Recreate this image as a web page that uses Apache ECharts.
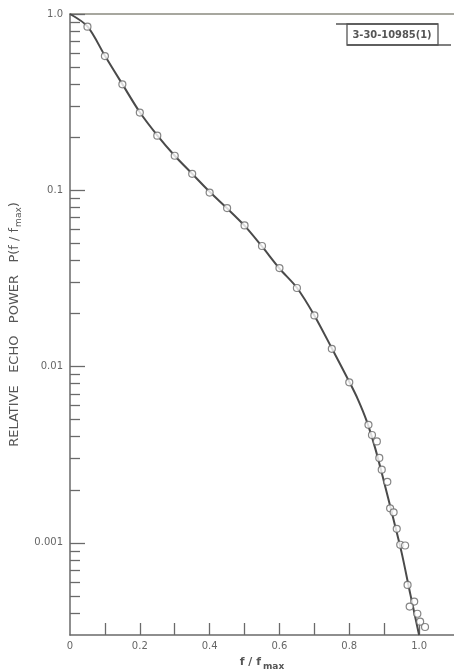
<!DOCTYPE html>
<html>
<head>
<meta charset="utf-8">
<script src="https://cdn.jsdelivr.net/npm/echarts@6.0.0/dist/echarts.min.js"></script>
<style>
    html, body { margin: 0; padding: 0; background: #fff; }
    #echo-chart { width: 454px; height: 671px; }
</style>
</head>
<body>
<div id="echo-chart"></div>
<script>
// 测量点 (f/fmax, P)
var pointX = [0.05, 0.10, 0.15, 0.20, 0.25, 0.30, 0.35, 0.40, 0.45, 0.50, 0.55, 0.60, 0.65, 0.70, 0.75, 0.80,
    0.855, 0.865, 0.879, 0.886, 0.893, 0.909, 0.917, 0.927, 0.936, 0.946, 0.960, 0.967, 0.986, 0.973, 0.995, 1.003, 1.017];
var pointP = [0.847, 0.577, 0.399, 0.276, 0.204, 0.157, 0.124, 0.097, 0.0793, 0.0632, 0.0483, 0.0362, 0.0279, 0.0195, 0.0126, 0.00814,
    0.00467, 0.00409, 0.00376, 0.00303, 0.00260, 0.00222, 0.00157, 0.00149, 0.00120, 0.000975, 0.000966, 0.000577, 0.000464, 0.000435, 0.000396, 0.000357, 0.000333];

// 拟合曲线
var fitX = [0, 0.05, 0.10, 0.15, 0.20, 0.25, 0.30, 0.35, 0.40, 0.45, 0.50, 0.55, 0.60, 0.65, 0.70, 0.75, 0.80, 0.825, 0.85, 0.875, 0.90, 0.925, 0.95, 0.975, 1.0];
var fitP = [1.0, 0.85, 0.58, 0.40, 0.277, 0.205, 0.157, 0.124, 0.098, 0.079, 0.063, 0.048, 0.036, 0.028, 0.0195, 0.0127, 0.0082, 0.0065, 0.0049, 0.0034, 0.0022, 0.0014, 0.00088, 0.00051, 0.0003];

// 刻度
var xLabelValues = [0, 0.2, 0.4, 0.6, 0.8, 1.0];
var xTickValues = [0.1, 0.2, 0.3, 0.4, 0.5, 0.6, 0.7, 0.8, 0.9, 1.0];
var yLabelValues = [0.001, 0.01, 0.1, 1];
var yMinorValues = [0.0004, 0.0005, 0.0006, 0.0007, 0.0008, 0.0009,
    0.002, 0.003, 0.004, 0.005, 0.006, 0.007, 0.008, 0.009,
    0.02, 0.03, 0.04, 0.05, 0.06, 0.07, 0.08, 0.09,
    0.2, 0.3, 0.4, 0.5, 0.6, 0.7, 0.8, 0.9];

(function() {
    var myChart = echarts.init(document.getElementById('echo-chart'));
    var axisColor = '#6a6a6a';
    var textColor = '#666';

    var points = pointX.map(function(x, i) { return [x, pointP[i]]; });
    var fit = fitX.map(function(x, i) { return [x, fitP[i]]; });

    var option = {
        backgroundColor: '#fff',
        animation: false,
        grid: {
            left: 70,
            right: 0,
            top: 14,
            bottom: 36,
            outerBoundsMode: 'none'
        },
        xAxis: [{
            type: 'value',
            min: 0,
            max: 1.1,
            name: '{a|f / f}{s|max}',
            nameLocation: 'middle',
            nameGap: 19,
            nameTextStyle: {
                rich: {
                    a: { fontFamily: 'DejaVu Sans', fontSize: 11, fontWeight: 'bold', color: '#555' },
                    s: { fontFamily: 'DejaVu Sans', fontSize: 9, fontWeight: 'bold', color: '#555', padding: [8, 0, 0, 2] }
                }
            },
            splitLine: { show: false },
            axisLine: { show: true, lineStyle: { color: axisColor, width: 1.5 } },
            axisTick: {
                show: true,
                inside: true,
                length: 12,
                customValues: xTickValues,
                lineStyle: { color: axisColor, width: 1.3 }
            },
            axisLabel: {
                customValues: xLabelValues,
                color: textColor,
                fontFamily: 'DejaVu Sans',
                fontSize: 10,
                margin: 6,
                formatter: function(v) { return v === 0 ? '0' : v.toFixed(1); }
            }
        }, {
            type: 'value',
            position: 'top',
            min: 0,
            max: 1.1,
            splitLine: { show: false },
            axisLine: { show: true, onZero: false, lineStyle: { color: '#8a8a80', width: 1.5 } },
            axisTick: { show: false },
            axisLabel: { show: false }
        }],
        yAxis: [{
            type: 'log',
            logBase: 10,
            min: 0.0003,
            max: 1,
            name: '{a|RELATIVE   ECHO   POWER   P(f / f}{s|max}{a|)}',
            nameLocation: 'middle',
            nameGap: 36,
            nameRotate: 90,
            nameTextStyle: {
                rich: {
                    a: { fontFamily: 'DejaVu Sans', fontSize: 13, color: '#555' },
                    s: { fontFamily: 'DejaVu Sans', fontSize: 9, color: '#555', padding: [9, 0, 0, 1] }
                }
            },
            splitLine: { show: false },
            axisLine: { show: true, lineStyle: { color: axisColor, width: 1.5 } },
            axisTick: {
                show: true,
                inside: true,
                length: 15,
                customValues: yLabelValues,
                lineStyle: { color: axisColor, width: 1.3 }
            },
            axisLabel: {
                customValues: yLabelValues,
                color: textColor,
                fontFamily: 'DejaVu Sans',
                fontSize: 10,
                margin: 7,
                formatter: function(v) { return v >= 1 ? '1.0' : String(v); }
            }
        }, {
            type: 'log',
            logBase: 10,
            min: 0.0003,
            max: 1,
            position: 'left',
            splitLine: { show: false },
            axisLine: { show: false },
            axisTick: {
                show: true,
                inside: true,
                length: 10,
                customValues: yMinorValues,
                lineStyle: { color: axisColor, width: 1.3 }
            },
            axisLabel: { show: false }
        }],
        graphic: [{
            type: 'line',
            shape: { x1: 336, y1: 24, x2: 438, y2: 24 },
            style: { stroke: '#555', lineWidth: 1.3 }
        }, {
            type: 'line',
            shape: { x1: 347, y1: 45, x2: 451, y2: 45 },
            style: { stroke: '#555', lineWidth: 1.3 }
        }, {
            type: 'rect',
            shape: { x: 347, y: 24, width: 91, height: 21 },
            style: { fill: 'none', stroke: '#555', lineWidth: 1.3 }
        }, {
            type: 'text',
            x: 392,
            y: 35,
            style: {
                text: '3-30-10985(1)',
                fill: '#555',
                font: 'bold 11px "Liberation Sans Narrow", "DejaVu Sans Condensed", sans-serif',
                align: 'center',
                verticalAlign: 'middle'
            }
        }],
        series: [{
            name: 'fit',
            type: 'line',
            data: fit,
            smooth: 0.3,
            showSymbol: false,
            lineStyle: { color: '#4a4a4a', width: 2 },
            z: 2
        }, {
            name: 'measured',
            type: 'scatter',
            data: points,
            symbol: 'circle',
            symbolSize: 7,
            itemStyle: { color: '#fff', borderColor: '#666', borderWidth: 1.2 },
            z: 3
        }]
    };

    myChart.setOption(option);

    window.addEventListener('resize', function() {
        myChart.resize();
    });
}());
</script>
</body>
</html>
